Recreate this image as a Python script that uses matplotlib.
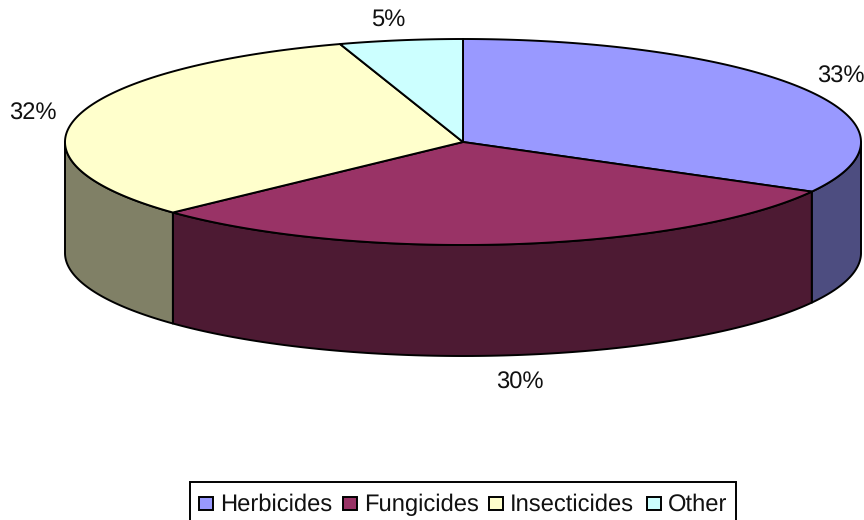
#!/usr/bin/env python3

import matplotlib
matplotlib.use("Agg")
import matplotlib.pyplot as plt
from matplotlib.patches import Polygon, Rectangle
import numpy as np

categories = ["Herbicides", "Fungicides", "Insecticides", "Other"]
values = [33, 30, 32, 5]
top_colors = ["#9999ff", "#993366", "#ffffcc", "#ccffff"]
side_colors = ["#4d4d80", "#4d1a33", "#808066", "#668080"]
label_pos = [(841, 83), (520, 389), (33, 120), (388.5, 26)]

CX, CY = 463, 142
RX, RY = 398, 103
DEPTH = 111
FONT = 17.1
LW = 1.4

plt.rcParams["font.family"] = ["Liberation Sans", "DejaVu Sans"]
plt.rcParams["text.hinting"] = "no_hinting"


def rim(t):
    # t is clockwise from 12 o'clock, degrees
    r = np.radians(t)
    return CX + RX * np.sin(r), CY - RY * np.cos(r)


def main():
    fig = plt.figure(figsize=(8.64, 5.2), dpi=100)
    ax = fig.add_axes([0, 0, 1, 1])
    ax.set_xlim(0, 864)
    ax.set_ylim(520, 0)
    ax.axis("off")

    edges = np.concatenate([[0], np.cumsum(values)]) * 3.6

    # side walls first, only the part of the rim facing the viewer
    for i in range(len(values)):
        lo = max(edges[i], 90)
        hi = min(edges[i + 1], 270)
        if lo >= hi:
            continue
        x, y = rim(np.linspace(lo, hi, 120))
        pts = np.r_[np.c_[x, y], np.c_[x[::-1], y[::-1] + DEPTH]]
        ax.add_patch(Polygon(pts, fc=side_colors[i], ec="black", lw=LW, joinstyle="round"))

    # top face
    for i in range(len(values)):
        x, y = rim(np.linspace(edges[i], edges[i + 1], 200))
        pts = np.r_[[[CX, CY]], np.c_[x, y]]
        ax.add_patch(Polygon(pts, fc=top_colors[i], ec="black", lw=LW, joinstyle="round"))

    for val, (lx, ly) in zip(values, label_pos):
        ax.text(lx, ly, "%d%%" % val, fontsize=FONT, ha="center", va="baseline", color="#111111")

    # legend, laid out by hand; the box runs off the bottom of the image
    ax.add_patch(Rectangle((190, 482), 546, 44, fc="white", ec="black", lw=LW))
    key_x = [199, 343, 489, 647]
    for name, color, kx in zip(categories, top_colors, key_x):
        ax.add_patch(Rectangle((kx, 496.5), 13.5, 13.5, fc=color, ec="black", lw=LW))
        ax.text(kx + 21, 511, name, fontsize=FONT, ha="left", va="baseline", color="#111111")

    fig.savefig("out.png", dpi=100)
    plt.close("all")


if __name__ == "__main__":
    main()
